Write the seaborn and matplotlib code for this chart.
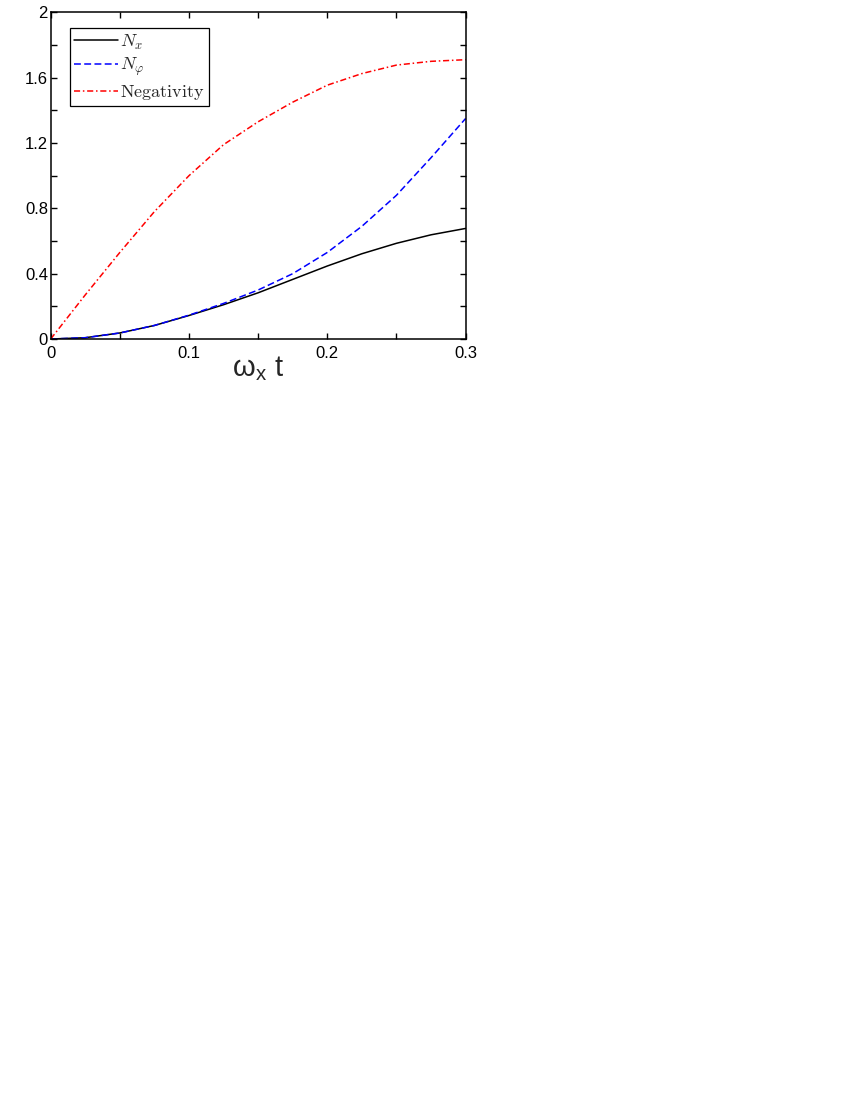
import pandas as pd
import matplotlib
matplotlib.use('Agg')
import matplotlib.pyplot as plt
import seaborn as sns

# values
t = [0, 0.025, 0.05, 0.075, 0.1, 0.125, 0.15, 0.175, 0.2, 0.225, 0.25, 0.275, 0.3]
n_x = [0, 0.008, 0.037, 0.083, 0.144, 0.21, 0.283, 0.365, 0.447, 0.522, 0.586, 0.638, 0.677]
n_phi = [0, 0.008, 0.037, 0.083, 0.146, 0.218, 0.30, 0.40, 0.53, 0.69, 0.88, 1.11, 1.35]
negativity = [0, 0.27, 0.53, 0.78, 1.0, 1.19, 1.33, 1.45, 1.554, 1.625, 1.677, 1.70, 1.71]

x_ticks = [0, 0.1, 0.2, 0.3]
x_minor = [0.05, 0.15, 0.25]
x_labels = ['0', '0.1', '0.2', '0.3']
y_ticks = [0, 0.4, 0.8, 1.2, 1.6, 2.0]
y_minor = [0.2, 0.6, 1.0, 1.4, 1.8]
y_labels = ['0', '0.4', '0.8', '1.2', '1.6', '2']

sns.set_style('ticks')
plt.rcParams['font.family'] = ['Liberation Sans', 'DejaVu Sans']
plt.rcParams['mathtext.fontset'] = 'cm'

df = pd.DataFrame({'t': t, 'Nx': n_x, 'Nphi': n_phi, 'Neg': negativity})

fig = plt.figure(figsize=(8.5, 11), dpi=100)
ax = fig.add_axes([0.0596, 0.6918, 0.4882, 0.297])

sns.lineplot(data=df, x='t', y='Nx', ax=ax, color='black', linewidth=1.1,
             label=r'$N_x$')
sns.lineplot(data=df, x='t', y='Nphi', ax=ax, color='blue', linewidth=1.1,
             linestyle=(0, (4.5, 2.2)), label=r'$N_\varphi$')
sns.lineplot(data=df, x='t', y='Neg', ax=ax, color='red', linewidth=1.1,
             linestyle=(0, (4, 1.8, 1, 1.8)), label=r'$\mathrm{Negativity}$')

ax.set_xlim(0, 0.3)
ax.set_ylim(0, 2)
ax.set_xticks(x_ticks)
ax.set_xticks(x_minor, minor=True)
ax.set_xticklabels(x_labels)
ax.set_yticks(y_ticks)
ax.set_yticks(y_minor, minor=True)
ax.set_yticklabels(y_labels)
ax.tick_params(which='both', direction='in', length=4.5, width=1,
               top=True, right=True, labelsize=12, colors='black')
ax.tick_params(axis='x', pad=5)
ax.tick_params(axis='y', pad=2)
for s in ax.spines.values():
    s.set_linewidth(1.1)
    s.set_color('black')

ax.set_xlabel(r'$\mathregular{\omega_x\ t}$', fontsize=21, labelpad=-5,
              family='Liberation Sans')
ax.set_ylabel('')

leg = ax.legend(loc='upper left', bbox_to_anchor=(0.046, 0.952), borderaxespad=0,
                fontsize=13, handlelength=2.4, handletextpad=0.15,
                labelspacing=0.25, borderpad=0.25, fancybox=False,
                framealpha=1, edgecolor='black')
leg.get_frame().set_linewidth(0.9)

fig.savefig('out.png', dpi=100)
